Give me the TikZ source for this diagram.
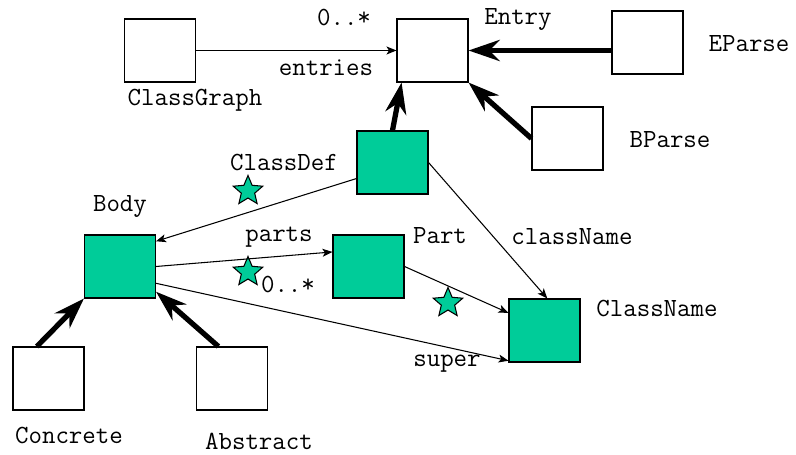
\documentclass[tikz,border=0pt]{standalone}
\usetikzlibrary{arrows.meta,shapes.geometric}
\definecolor{umlGreen}{HTML}{00CC99}

\begin{document}
\begin{tikzpicture}[x=0.02cm,y=-0.02cm,
  font=\ttfamily\fontsize{14.9}{17}\selectfont,
  plainbox/.style={draw,line width=0.6pt,fill=white,minimum width=1.42cm,minimum height=1.26cm,inner sep=0pt},
  greenbox/.style={plainbox,fill=umlGreen},
  lbl/.style={inner sep=0pt},
  mark star/.style={star,star points=5,star point ratio=2.2,draw,fill=umlGreen,line width=0.6pt,minimum size=0.62cm,inner sep=0pt},
  assoc/.style={-{Stealth[length=0.2cm,width=0.16cm,inset=0.05cm]},line width=0.6pt},
  inherit/.style={-{Stealth[length=0.62cm,width=0.42cm,inset=0.2cm]},line width=3pt}]
  \useasboundingbox (0,0) rectangle (796,455);
  \node[plainbox] (cg) at (160,50.5) {};
  \node[plainbox] (entry) at (432.5,50.5) {};
  \node[plainbox] (eparse) at (647.5,42.5) {};
  \node[plainbox] (bparse) at (567.5,138.5) {};
  \node[greenbox] (cdef) at (392.5,162.5) {};
  \node[greenbox] (body) at (120,266.5) {};
  \node[greenbox] (part) at (368.5,266.5) {};
  \node[greenbox] (cname) at (544.5,330.5) {};
  \node[plainbox] (conc) at (48.5,378.5) {};
  \node[plainbox] (abst) at (232,378.5) {};

  \node[lbl] (cg-l) at (195,100) {ClassGraph};
  \node[lbl] (entry-l) at (518,19) {Entry};
  \node[lbl] (eparse-l) at (749,44) {EParse};
  \node[lbl] (bparse-l) at (670,140) {BParse};
  \node[lbl] (cdef-l) at (284,163) {ClassDef};
  \node[lbl] (body-l) at (120,206) {Body};
  \node[lbl] (part-l) at (440,236) {Part};
  \node[lbl] (cname-l) at (657,309) {ClassName};
  \node[lbl] (conc-l) at (69,436) {Concrete};
  \node[lbl] (abst-l) at (259,441) {Abstract};
  \node[lbl] (mult1) at (344,18) {0..*};
  \node[lbl] (entries-l) at (326,68) {entries};
  \node[lbl] (parts-l) at (279,237) {parts};
  \node[lbl] (mult2) at (288,285) {0..*};
  \node[lbl] (cnrole-l) at (572,237) {className};
  \node[lbl] (super-l) at (447,364) {super};

  \node[mark star] (s1) at (248,191) {};
  \node[mark star] (s2) at (248,272) {};
  \node[mark star] (s3) at (448,303) {};

  \draw[assoc] (cg.east) -- (entry.west);
  \draw[inherit] (eparse.west |- entry.east) -- (entry.east);
  \draw[inherit] (bparse.west) -- (entry.south east);
  \draw[inherit] (cdef.north) -- (entry.226);
  \draw[assoc] (cdef.204) -- (body.35);
  \draw[assoc] (body.east) -- (part.158);
  \draw[assoc] (body.-25) -- (cname.220);
  \draw[assoc] (part.east) -- (cname.154);
  \draw[assoc] (cdef.east) -- (cname.85);
  \draw[inherit] (conc.110) -- (body.south west);
  \draw[inherit] (abst.113) -- (body.-35);
\end{tikzpicture}
\end{document}
